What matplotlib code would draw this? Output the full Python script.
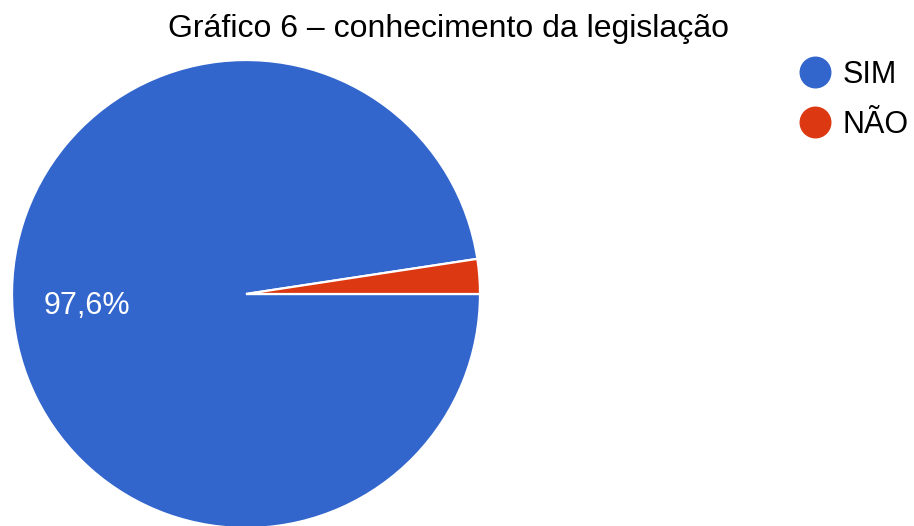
import matplotlib
matplotlib.use("Agg")
import matplotlib.pyplot as plt
from matplotlib.lines import Line2D

# chart data
labels = ["SIM", "NÃO"]
values = [97.6, 2.4]
colors = ["#3366CC", "#DC3912"]
title = "Gráfico 6 – conhecimento da legislação"

plt.rcParams["font.family"] = ["Liberation Sans", "DejaVu Sans"]

W, H = 914, 526
fig = plt.figure(figsize=(W / 100, H / 100), dpi=100)

# pie centre ~ (246, 294) px, radius ~ 234 px
cx, cy, r = 246, 294, 234
ax = fig.add_axes([(cx - r) / W, (H - cy - r) / H, 2 * r / W, 2 * r / H])


def fmt_pct(p):
    if p < 5:
        return ""
    return f"{p:.1f}%".replace(".", ",")


wedges, texts, autotexts = ax.pie(
    values, colors=colors, startangle=0, counterclock=False,
    autopct=fmt_pct, pctdistance=0.68, radius=1,
    wedgeprops=dict(edgecolor="white", linewidth=1.6),
    textprops=dict(color="white", fontsize=22))
ax.set_xlim(-1, 1)
ax.set_ylim(-1, 1)
ax.set_aspect("equal")
ax.axis("off")

fig.text(0.491, 1 - 37 / H, title, ha="center", va="baseline", fontsize=23)

handles = [Line2D([], [], linestyle="none", marker="o", markersize=22,
                  markerfacecolor=c, markeredgecolor=c) for c in colors]
fig.legend(handles, labels, loc="upper left", bbox_to_anchor=(800 / W, 1 - 60 / H),
           frameon=False, fontsize=22, handlelength=1.0, handletextpad=0.4,
           labelspacing=0.65, borderpad=0, borderaxespad=0)

fig.savefig("out.png", dpi=100)
